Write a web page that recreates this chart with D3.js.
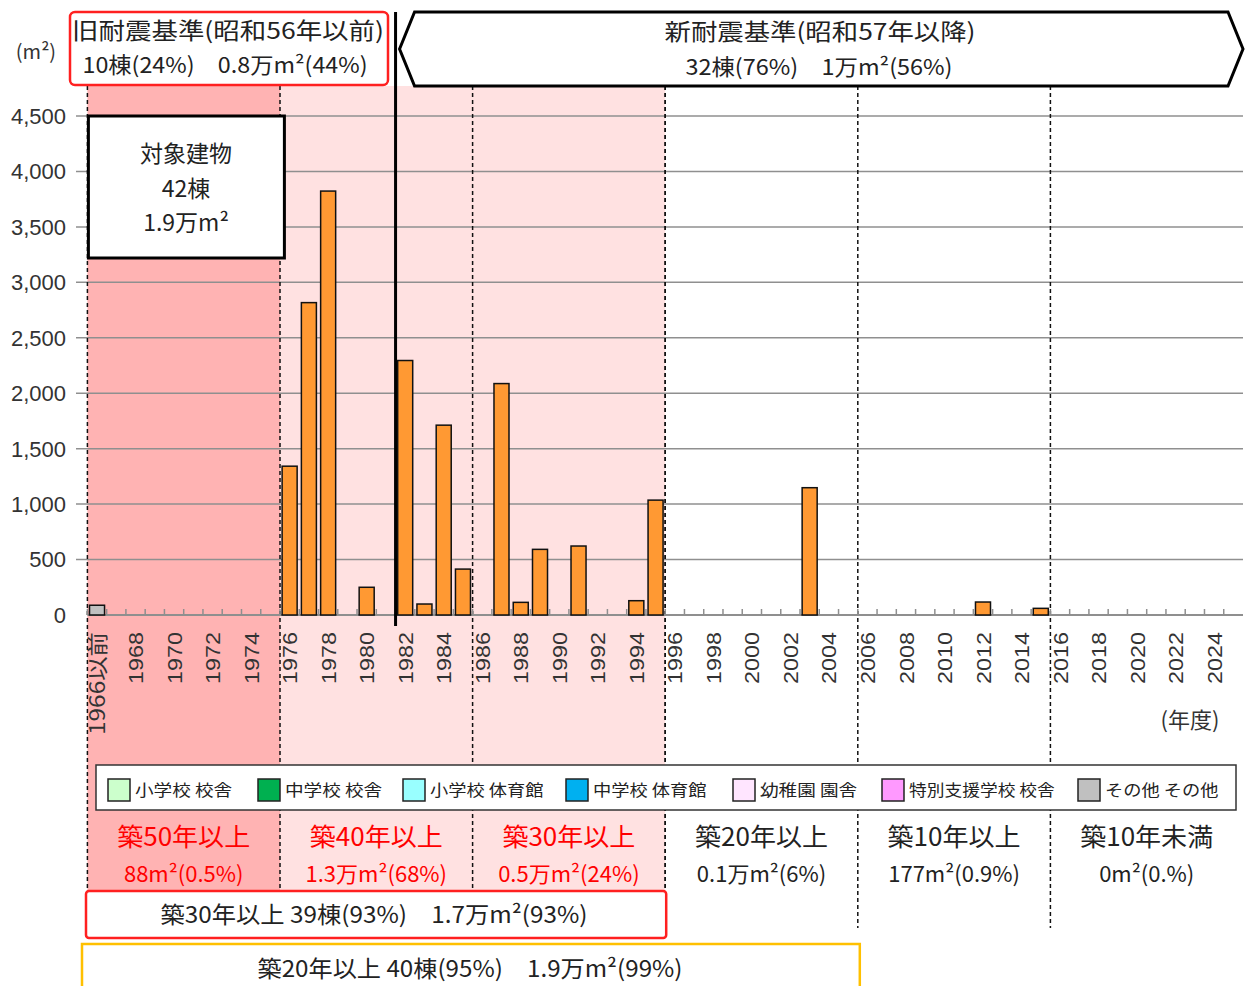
<!DOCTYPE html>
<meta charset="utf-8">
<script src="https://d3js.org/d3.v7.min.js"></script>
<style>
body { margin: 0; background: #fff; }
svg text { font-family: "Noto Sans CJK JP", "Noto Sans", sans-serif; fill: #222; }
.num { font-family: "Liberation Sans", Arial, sans-serif !important; }
</style>
<div id="chart"></div>
<script>
// categories on the x axis (construction year)
var categories = ["1966以前","1967","1968","1969","1970","1971","1972","1973","1974","1975",
  "1976","1977","1978","1979","1980","1981","1982","1983","1984","1985",
  "1986","1987","1988","1989","1990","1991","1992","1993","1994","1995",
  "1996","1997","1998","1999","2000","2001","2002","2003","2004","2005",
  "2006","2007","2008","2009","2010","2011","2012","2013","2014","2015",
  "2016","2017","2018","2019","2020","2021","2022","2023","2024","2025"]

// floor area (m2) by year, orange bars
var mainYears = ["1976","1977","1978","1980","1982","1983","1984","1985","1987","1988","1989","1991","1994","1995","2003","2012","2015"]
var mainValues = [1342, 2817, 3823, 250, 2295, 99, 1712, 414, 2087, 114, 592, 622, 129, 1036, 1148, 117, 60]

// その他 (grey bar)
var otherYears = ["1966以前"]
var otherValues = [88]

var yTicks = [0, 500, 1000, 1500, 2000, 2500, 3000, 3500, 4000, 4500]

var legendNames = ["小学校 校舎","中学校 校舎","小学校 体育館","中学校 体育館","幼稚園 園舎","特別支援学校 校舎","その他 その他"]
var legendColors = ["#CCFFCC","#00B050","#99FFFF","#00B0F0","#FFE5FF","#FF99FF","#C0C0C0"]

// age groups (start category of each group)
var ageStarts = ["1966以前","1976","1986","1996","2006","2016"]
var ageNames = ["築50年以上","築40年以上","築30年以上","築20年以上","築10年以上","築10年未満"]
var ageAreas = ["88m²(0.5%)","1.3万m²(68%)","0.5万m²(24%)","0.1万m²(6%)","177m²(0.9%)","0m²(0.%)"]

var width = 1246, height = 986

var svg = d3.select("#chart").append("svg")
  .attr("width", width).attr("height", height)

var x = d3.scaleBand().domain(categories).range([87.4, 1243]).paddingInner(0.22).paddingOuter(0.11)
var y = d3.scaleLinear().domain([0, 4500]).range([615, 116])

// edge of category band (boundary between years)
function edge(cat) { return x.range()[0] + categories.indexOf(cat) * x.step() }
var right = x.range()[1]
var oldEnd = edge("1976"), c30End = edge("1996")

// stretch a text to a given width (the original font is narrow and tall)
function fit(sel, len) { return sel.attr("textLength", len).attr("lengthAdjust", "spacingAndGlyphs") }

// pink shading
svg.append("rect").attr("x", edge("1966以前")).attr("y", 86)
  .attr("width", oldEnd - edge("1966以前")).attr("height", 804).attr("fill", "#FFB3B3")
svg.append("rect").attr("x", oldEnd).attr("y", 86)
  .attr("width", c30End - oldEnd).attr("height", 804).attr("fill", "#FFE1E1")

// gridlines
svg.append("g").selectAll("line").data(yTicks.slice(1)).enter().append("line")
  .attr("x1", 76).attr("x2", right)
  .attr("y1", function(d){ return y(d) }).attr("y2", function(d){ return y(d) })
  .attr("stroke", "#8f8f8f").attr("stroke-width", 1.5)

// y labels
svg.append("g").selectAll("text").data(yTicks).enter().append("text")
  .attr("class", "num")
  .attr("x", 66).attr("y", function(d){ return y(d) }).attr("dy", "0.36em")
  .attr("text-anchor", "end").style("font-size", "22px").style("fill", "#333")
  .text(function(d){ return d3.format(",")(d) })

// dashed age dividers
svg.append("g").selectAll("line").data(ageStarts).enter().append("line")
  .attr("x1", function(d){ return edge(d) }).attr("x2", function(d){ return edge(d) })
  .attr("y1", 86).attr("y2", function(d, i){ return i < 3 ? 890 : 928 })
  .attr("stroke", "#111").attr("stroke-width", 1.5).attr("stroke-dasharray", "4,3")
svg.append("line").attr("x1", c30End).attr("x2", c30End).attr("y1", 86).attr("y2", 890)
  .attr("stroke", "#111").attr("stroke-width", 1.5).attr("stroke-dasharray", "4,3")

// x axis line with small ticks between bands
svg.append("line").attr("x1", x.range()[0]).attr("x2", right).attr("y1", y(0)).attr("y2", y(0))
  .attr("stroke", "#8f8f8f").attr("stroke-width", 2)
svg.append("g").selectAll("line").data(categories).enter().append("line")
  .attr("x1", function(d){ return edge(d) }).attr("x2", function(d){ return edge(d) })
  .attr("y1", y(0) - 6).attr("y2", y(0))
  .attr("stroke", "#8f8f8f").attr("stroke-width", 1.5)

// bars
svg.append("g").selectAll("rect").data(mainValues).enter().append("rect")
  .attr("x", function(d, i){ return x(mainYears[i]) })
  .attr("width", x.bandwidth())
  .attr("y", function(d){ return y(d) })
  .attr("height", function(d){ return y(0) - y(d) })
  .attr("fill", "#FF9933").attr("stroke", "#111").attr("stroke-width", 1.5)
svg.append("g").selectAll("rect").data(otherValues).enter().append("rect")
  .attr("x", function(d, i){ return x(otherYears[i]) })
  .attr("width", x.bandwidth())
  .attr("y", function(d){ return y(d) })
  .attr("height", function(d){ return y(0) - y(d) })
  .attr("fill", "#C0C0C0").attr("stroke", "#111").attr("stroke-width", 1.5)

// x labels (every 2nd year), rotated
svg.append("g").selectAll("text").data(categories.filter(function(d, i){ return i % 2 == 0 }))
  .enter().append("text")
  .attr("class", function(d){ return d.length == 4 ? "num" : null })
  .attr("transform", function(d){ return "translate(" + (x(d) + x.bandwidth() / 2) + ",632) rotate(-90)" })
  .attr("dy", "0.36em").attr("text-anchor", "end")
  .attr("textLength", function(d){ return d.length == 4 ? 52 : 103 })
  .attr("lengthAdjust", "spacingAndGlyphs")
  .style("font-size", "21px").style("fill", "#333")
  .text(function(d){ return d })

// 1981/1982 divider
var newStart = edge("1982")
svg.append("line").attr("x1", newStart).attr("x2", newStart).attr("y1", 12).attr("y2", 626)
  .attr("stroke", "#000").attr("stroke-width", 3)

// header: old standard
svg.append("rect").attr("x", 70).attr("y", 12).attr("width", 318).attr("height", 73).attr("rx", 5)
  .attr("fill", "#fff").attr("stroke", "#FF2020").attr("stroke-width", 2.5)
fit(svg.append("text").attr("x", 228).attr("y", 39).attr("text-anchor", "middle")
  .style("font-size", "23px").text("旧耐震基準(昭和56年以前)"), 312)
fit(svg.append("text").attr("x", 225).attr("y", 73).attr("text-anchor", "middle")
  .style("font-size", "22px").text("10棟(24%)　0.8万m²(44%)"), 285)

// header: new standard (arrow hexagon)
var hx0 = newStart + 4, hx1 = right, hy0 = 12, hy1 = 86, hm = 49
svg.append("polygon")
  .attr("points", [[hx0, hm], [hx0 + 15, hy0], [hx1 - 15, hy0], [hx1, hm], [hx1 - 15, hy1], [hx0 + 15, hy1]].join(" "))
  .attr("fill", "#fff").attr("stroke", "#000").attr("stroke-width", 3)
fit(svg.append("text").attr("x", 820).attr("y", 40).attr("text-anchor", "middle")
  .style("font-size", "23px").text("新耐震基準(昭和57年以降)"), 311)
fit(svg.append("text").attr("x", 819).attr("y", 75).attr("text-anchor", "middle")
  .style("font-size", "22px").text("32棟(76%)　1万m²(56%)"), 267)

// unit label
svg.append("text").attr("x", 36).attr("y", 59).attr("text-anchor", "middle")
  .style("font-size", "20px").style("fill", "#333").text("(m²)")

// total box
svg.append("rect").attr("x", edge("1966以前") + 1).attr("y", 116).attr("width", 196).attr("height", 142)
  .attr("fill", "#fff").attr("stroke", "#000").attr("stroke-width", 3)
var tb = svg.append("text").attr("text-anchor", "middle").style("font-size", "23px")
tb.append("tspan").attr("x", 186).attr("y", 162).text("対象建物")
tb.append("tspan").attr("x", 186).attr("y", 197).text("42棟")
tb.append("tspan").attr("x", 186).attr("y", 231).text("1.9万m²")

// (年度)
svg.append("text").attr("x", 1190).attr("y", 728).attr("text-anchor", "middle")
  .style("font-size", "22px").style("fill", "#333").text("(年度)")

// legend
svg.append("rect").attr("x", 96).attr("y", 765).attr("width", 1140).attr("height", 45)
  .attr("fill", "#fff").attr("stroke", "#333").attr("stroke-width", 1.5)
var legendX = [108, 258, 403, 566, 733, 882, 1078]
var lg = svg.append("g").selectAll("g").data(legendNames).enter().append("g")
  .attr("transform", function(d, i){ return "translate(" + legendX[i] + ",779)" })
lg.append("rect").attr("width", 22).attr("height", 22)
  .attr("fill", function(d, i){ return legendColors[i] }).attr("stroke", "#222").attr("stroke-width", 1.5)
lg.append("text").attr("x", 27).attr("y", 17).style("font-size", "16px")
  .attr("textLength", function(d){ return d.length * 16.2 }).attr("lengthAdjust", "spacingAndGlyphs")
  .text(function(d){ return d })

// age group labels
function mid(i) { var a = edge(ageStarts[i]); var b = i < 5 ? edge(ageStarts[i + 1]) : right; return (a + b) / 2 }
var ageG = svg.append("g").selectAll("g").data(ageNames).enter().append("g")
ageG.append("text")
  .attr("x", function(d, i){ return mid(i) })
  .attr("y", 846).attr("text-anchor", "middle").style("font-size", "25px")
  .attr("textLength", 133).attr("lengthAdjust", "spacingAndGlyphs")
  .style("fill", function(d, i){ return i < 3 ? "#FF0000" : "#222" })
  .text(function(d){ return d })
ageG.append("text")
  .attr("x", function(d, i){ return mid(i) })
  .attr("y", 882).attr("text-anchor", "middle").style("font-size", "22px")
  .style("fill", function(d, i){ return i < 3 ? "#FF0000" : "#222" })
  .text(function(d, i){ return ageAreas[i] })

// summary boxes
svg.append("rect").attr("x", 86).attr("y", 891).attr("width", c30End + 1 - 86).attr("height", 47).attr("rx", 3)
  .attr("fill", "#fff").attr("stroke", "#FF2020").attr("stroke-width", 2.5)
fit(svg.append("text").attr("x", 374).attr("y", 923).attr("text-anchor", "middle")
  .style("font-size", "23px").text("築30年以上 39棟(93%)　1.7万m²(93%)"), 427)
svg.append("rect").attr("x", 82).attr("y", 944).attr("width", edge("2006") + 2 - 82).attr("height", 50)
  .attr("fill", "#fff").attr("stroke", "#FFC000").attr("stroke-width", 2.5)
fit(svg.append("text").attr("x", 470).attr("y", 977).attr("text-anchor", "middle")
  .style("font-size", "23px").text("築20年以上 40棟(95%)　1.9万m²(99%)"), 425)
</script>
